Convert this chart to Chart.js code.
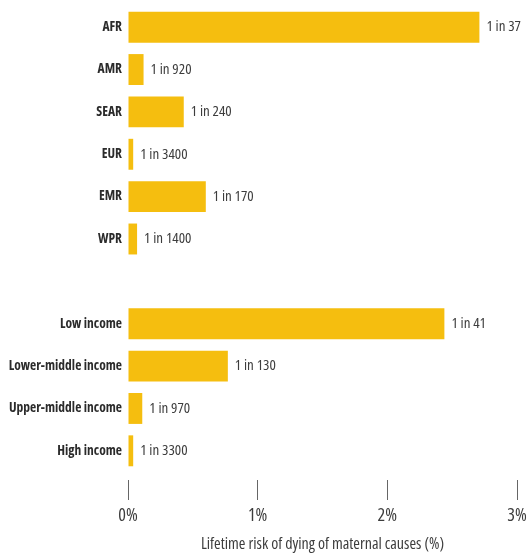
<!DOCTYPE html>
<html>
<head>
<meta charset="utf-8">
<script src="https://cdn.jsdelivr.net/npm/chart.js@4/dist/chart.umd.min.js"></script>
<style>
html,body{margin:0;padding:0;background:#fff;}
#wrap{width:528px;height:554px;}
</style>
</head>
<body>
<div id="wrap"><canvas id="bar-chart"></canvas></div>
<script>
// categories, blank one is the gap between regions and income groups
var categorias = ["AFR","AMR","SEAR","EUR","EMR","WPR","","Low income","Lower-middle income","Upper-middle income","High income"];
// lifetime risk (%)
var riesgo = [2.71, 0.12, 0.43, 0.04, 0.60, 0.07, null, 2.44, 0.77, 0.11, 0.04];
var etiquetas = ["1 in 37","1 in 920","1 in 240","1 in 3400","1 in 170","1 in 1400","","1 in 41","1 in 130","1 in 970","1 in 3300"];
var ticksX = [0, 1, 2, 3];

var fuente = "'Open Sans', sans-serif";

var etiquetasPlugin = {
	id: "etiquetas",
	afterDatasetsDraw: function(chart){
		var ctx = chart.ctx;
		var meta = chart.getDatasetMeta(0);
		ctx.save();
		ctx.font = "condensed 15px " + fuente;
		ctx.fillStyle = "#3d3d3d";
		ctx.textBaseline = "middle";
		ctx.textAlign = "left";
		meta.data.forEach(function(bar, i){
			if (riesgo[i] == null) return;
			ctx.fillText(etiquetas[i], bar.x + 7, bar.y);
		});
		ctx.restore();
	}
};

charBarras(categorias, riesgo, "bar-chart");

function charBarras(X, Y, id){
	new Chart(document.getElementById(id), {
		type: "bar",
		data: {
			labels: X,
			datasets: [{
				label: "Lifetime risk",
				backgroundColor: "#f5be0f",
				borderWidth: 0,
				barPercentage: 0.73,
				categoryPercentage: 1,
				data: Y
			}]
		},
		options: {
			indexAxis: "y",
			responsive: true,
			maintainAspectRatio: false,
			animation: false,
			layout: { padding: { top: 6, right: 0, left: 0, bottom: 0 } },
			plugins: {
				legend: { display: false },
				tooltip: { enabled: false }
			},
			scales: {
				x: {
					min: 0,
					max: 3,
					afterBuildTicks: function(scale){
						scale.ticks = ticksX.map(function(v){ return { value: v }; });
					},
					afterFit: function(scale){
						scale.height = 82;
						scale.paddingRight = 11;
						scale.paddingLeft = 0;
					},
					border: { display: false },
					grid: {
						drawOnChartArea: false,
						drawTicks: true,
						tickLength: 28,
						tickColor: "#666",
						tickWidth: 1,
						tickBorderDash: [0, 8, 20, 200]
					},
					ticks: {
						padding: 5,
						color: "#3d3d3d",
						font: { family: fuente, size: 18, weight: "condensed" },
						callback: function(v){ return v + "%"; }
					},
					title: {
						display: true,
						text: "Lifetime risk of dying of maternal causes (%)",
						color: "#3d3d3d",
						font: { family: fuente, size: 16, weight: "condensed" },
						padding: { top: 0, bottom: 0 }
					}
				},
				y: {
					afterFit: function(scale){
						scale.width = 128;
						scale.paddingTop = 0;
						scale.paddingBottom = 0;
					},
					border: { display: false },
					grid: { display: false, drawTicks: false },
					ticks: {
						padding: 6,
						color: "#2b2b2b",
						font: { family: fuente, size: 13.5, weight: "condensed bold" }
					}
				}
			}
		},
		plugins: [etiquetasPlugin]
	});
}
</script>
</body>
</html>
